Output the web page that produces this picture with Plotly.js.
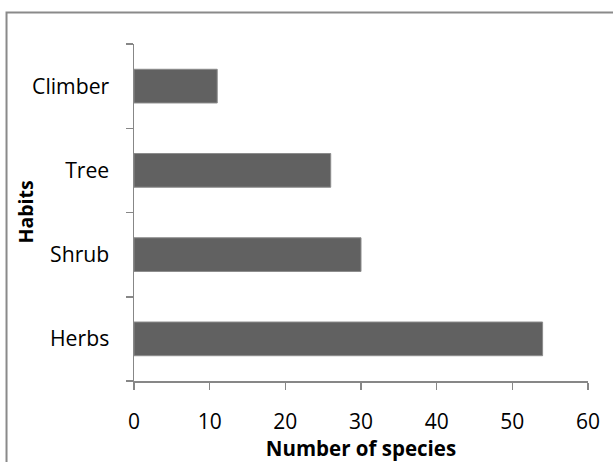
<!DOCTYPE html>
<html>
<head>
<meta charset="utf-8">
<script src="https://cdn.plot.ly/plotly-3.0.1.min.js"></script>
<style>
  html, body { margin: 0; padding: 0; background: #fff; }
  #chart { width: 613px; height: 462px; }
</style>
</head>
<body>
<div id="chart"></div>
<script>
// Plant habits and how many species fall under each
const habits = ['Herbs', 'Shrub', 'Tree', 'Climber'];
const speciesCount = [54, 30, 26, 11];
const xTicks = [0, 10, 20, 30, 40, 50, 60];

const axisGrey = '#878787';
const fontFamily = '"Open Sans", "Liberation Sans", sans-serif';

const trace = {
  type: 'bar',
  orientation: 'h',
  y: habits,
  x: speciesCount,
  marker: { color: '#616161', line: { color: '#8c8c8c', width: 1 } },
  hoverinfo: 'x+y'
};

const layout = {
  width: 613,
  height: 462,
  margin: { l: 134, r: 25, t: 44, b: 81 },
  paper_bgcolor: '#ffffff',
  plot_bgcolor: '#ffffff',
  showlegend: false,
  bargap: 0.6,
  font: { family: fontFamily, color: '#000' },
  xaxis: {
    range: [0, 60],
    tickvals: xTicks,
    ticktext: xTicks.map(String),
    showgrid: false,
    zeroline: false,
    showline: true,
    linecolor: axisGrey,
    linewidth: 1.5,
    ticks: 'outside',
    ticklen: 7,
    tickwidth: 1.5,
    tickcolor: axisGrey,
    tickfont: { size: 21, family: fontFamily },
    ticklabelstandoff: 14,
    title: { text: 'Number of species', font: { size: 20.5, family: fontFamily, weight: 'bold' }, standoff: 0 },
    automargin: false,
    fixedrange: true
  },
  yaxis: {
    type: 'category',
    categoryorder: 'array',
    categoryarray: habits,
    showgrid: false,
    zeroline: false,
    showline: true,
    linecolor: axisGrey,
    linewidth: 1.5,
    ticks: 'outside',
    tickson: 'boundaries',
    ticklen: 7,
    tickwidth: 1.5,
    tickcolor: axisGrey,
    tickfont: { size: 21.2, family: fontFamily },
    ticklabelstandoff: 19,
    automargin: false,
    fixedrange: true
  },
  // vertical axis title, set just left of the category labels
  annotations: [{
    text: '<b>Habits</b>',
    xref: 'paper', yref: 'paper',
    x: -0.240, y: 0.5,
    xanchor: 'center', yanchor: 'middle',
    textangle: -90,
    showarrow: false,
    font: { size: 19.5, family: fontFamily, color: '#000' }
  }],
  // chart-area frame, open to the right and bottom
  shapes: [{
    type: 'rect',
    xref: 'paper', yref: 'paper',
    x0: -0.2808, x1: 1.2, y0: -0.4, y1: 1.0935,
    line: { color: '#8a8a8a', width: 2 },
    fillcolor: 'rgba(0,0,0,0)',
    layer: 'below'
  }]
};

Plotly.newPlot('chart', [trace], layout, { staticPlot: true, displayModeBar: false });
</script>
</body>
</html>
